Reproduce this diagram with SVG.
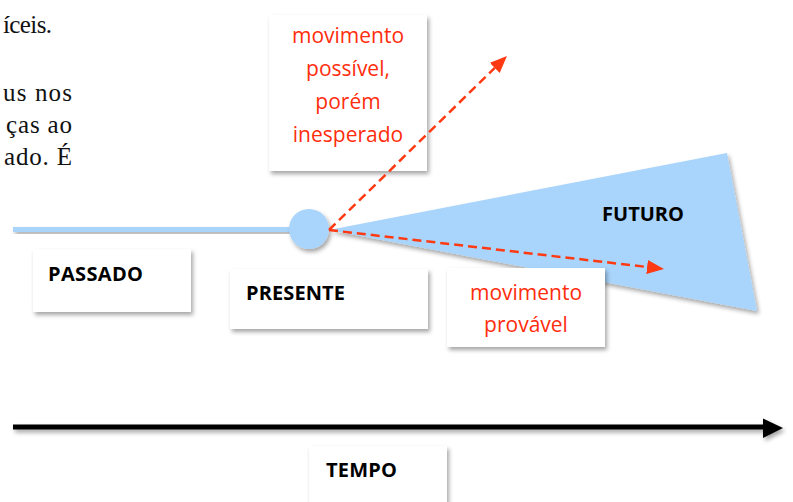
<svg xmlns="http://www.w3.org/2000/svg" width="793" height="502" viewBox="0 0 793 502">
<style>
.body{font-family:"Liberation Serif","Times New Roman",serif;font-size:25px;fill:#111}
.lbl{font-family:"Open Sans","Noto Sans",sans-serif;font-size:20px;font-weight:bold;fill:#000}
.red{font-family:"Open Sans","Noto Sans",sans-serif;font-size:21px;fill:#ff2d0d;text-anchor:middle}
.box{fill:#fff;filter:url(#sh)}
.blue{fill:#a9d4fb}
.dash{stroke:#ff3a12;stroke-width:2.5;stroke-dasharray:9 5;fill:none;marker-end:url(#rh)}
</style>
<defs>
<filter id="sh" x="-20%" y="-20%" width="140%" height="160%">
<feDropShadow dx="2" dy="3" stdDeviation="2" flood-color="#000" flood-opacity="0.35"/>
</filter>
<filter id="shl" filterUnits="userSpaceOnUse" x="0" y="400" width="793" height="60">
<feDropShadow dx="2" dy="3" stdDeviation="2" flood-color="#000" flood-opacity="0.35"/>
</filter>
<marker id="rh" markerUnits="userSpaceOnUse" markerWidth="17" markerHeight="14" refX="0" refY="7" orient="auto" viewBox="0 0 17 14">
<path d="M0,0 L17,7 L0,14 z" fill="#ff3a12"/>
</marker>
</defs>
<rect width="793" height="502" fill="#fff"/>
<g id="text-fragments">
<text class="body" x="3" y="33" textLength="49">íceis.</text>
<text class="body" x="3" y="101" textLength="69">us nos</text>
<text class="body" x="6" y="133" textLength="66">ças  ao</text>
<text class="body" x="4" y="165" textLength="68">ado. É</text>
</g>
<g id="timeline-past">
<rect x="13" y="227" width="282" height="5" fill="#a9d4fb" filter="url(#sh)"/>
</g>
<g id="cone-futuro">
<polygon class="blue" points="329,230 727,153 757,311" filter="url(#sh)"/>
<text class="lbl" x="602" y="221" textLength="82">FUTURO</text>
</g>
<g id="node-presente-dot">
<circle class="blue" cx="309" cy="229" r="20" filter="url(#sh)"/>
</g>
<g id="box-inesperado">
<rect class="box" x="269" y="15" width="158" height="156"/>
<text class="red" x="348" y="43">movimento</text>
<text class="red" x="348" y="76">possível,</text>
<text class="red" x="348" y="109">porém</text>
<text class="red" x="348" y="142">inesperado</text>
</g>
<g id="box-passado">
<rect class="box" x="33" y="249" width="158" height="63"/>
<text class="lbl" x="48" y="281" textLength="95">PASSADO</text>
</g>
<g id="box-presente">
<rect class="box" x="230" y="269" width="198" height="60"/>
<text class="lbl" x="246" y="300" textLength="99">PRESENTE</text>
</g>
<g id="box-provavel">
<rect class="box" x="447" y="268" width="158" height="79"/>
<text class="red" x="526" y="300">movimento</text>
<text class="red" x="526" y="332">provável</text>
</g>
<g id="box-tempo">
<rect class="box" x="309" y="446" width="138" height="70"/>
<text class="lbl" x="326" y="477" textLength="71">TEMPO</text>
</g>
<g id="connectors">
<line class="dash" x1="329" y1="230" x2="494.8" y2="67.9"/>
<line class="dash" x1="329" y1="230" x2="647.1" y2="267"/>
<g filter="url(#shl)">
<rect x="13" y="424.5" width="752" height="5" fill="#000"/>
<polygon points="763,418.5 783,428 763,438" fill="#000"/>
</g>
</g>
</svg>
